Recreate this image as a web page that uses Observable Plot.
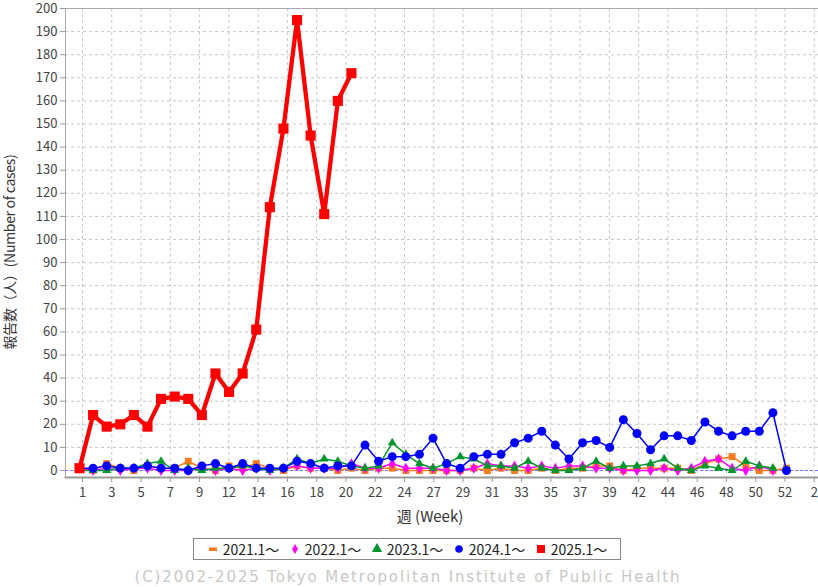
<!DOCTYPE html>
<html>
<head>
<meta charset="utf-8">
<script src="https://cdn.jsdelivr.net/npm/d3@7"></script>
<script src="https://cdn.jsdelivr.net/npm/@observablehq/plot@0.6"></script>
<style>
  html, body { margin: 0; padding: 0; background: #fff; }
  #wrap { position: relative; width: 818px; height: 587px; overflow: hidden; font-family: "Noto Sans CJK JP", "DejaVu Sans", sans-serif; }
  #chart { position: absolute; left: 0; top: 0; }
  #ylabel { position: absolute; left: 9px; top: 252px; transform: translate(-50%, -50%) rotate(-90deg); white-space: nowrap; font-size: 14px; color: #333; letter-spacing: -0.3px; }
  #xlabel { position: absolute; left: 430px; top: 515px; transform: translate(-50%, -50%); white-space: nowrap; font-size: 15px; color: #333; }
  #legend { position: absolute; left: 193px; top: 538px; width: 428px; height: 22px; border: 1px solid #888; box-sizing: border-box; display: flex; align-items: center; justify-content: space-around; padding: 0 8px; font-size: 14px; color: #222; }
  #legend .item { display: flex; align-items: center; gap: 4px; }
  #caption { position: absolute; left: 408px; top: 577px; transform: translate(-50%, -50%); white-space: nowrap; font-family: "DejaVu Sans", sans-serif; font-size: 15px; letter-spacing: 1.85px; color: #c8c8c8; }
</style>
</head>
<body>
<div id="wrap">
  <div id="chart"></div>
  <div id="ylabel">報告数（人）(Number of cases)</div>
  <div id="xlabel">週 (Week)</div>
  <div id="legend"></div>
  <div id="caption">(C)2002-2025 Tokyo Metropolitan Institute of Public Health</div>
</div>
<script>
// ---- data (weekly report counts) ----
const seriesNames = ["2021.1～", "2022.1～", "2023.1～", "2024.1～", "2025.1～"];
const cases2021 = [1,0,3,1,0,2,1,1,4,1, 0,2,1,3,1,0,2,1,1,0, 1,0,1,1,0,0,0,0,0,1, 0,1,0,0,1,0,1,1,2,2, 0,1,1,1,1,0,3,5,6,2, 0,0,1];
const cases2022 = [1,0,1,0,1,1,0,0,0,1, 0,1,0,1,0,1,2,1,1,1, 3,1,1,3,1,1,1,0,0,1, 3,2,2,1,2,1,2,2,1,1, 0,0,0,1,0,1,4,5,1,0, 2,0];
const cases2023 = [0,0,0,1,1,3,4,0,1,0, 1,1,2,1,0,1,5,3,5,4, 2,1,2,12,7,3,1,3,6,5, 2,2,1,4,1,0,0,1,4,1, 2,2,3,5,1,0,2,1,0,4, 2,1];
const cases2024 = [1,1,2,1,1,2,1,1,0,2, 3,1,3,1,1,1,4,3,1,2, 2,11,4,6,6,7,14,3,1,6, 7,7,12,14,17,11,5,12,13,10, 22,16,9,15,15,13,21,17,15,17, 17,25,0];
const cases2025 = [1,24,19,20,24,19,31,32,31,24, 42,34,42,61,114,148,195,145,111,160, 172];

// x-axis tick labels as printed on the chart
const xTickLabels = ["1","3","5","7","9","12","14","16","18","20","22","24","27","29","31","33","35","37","39","42","44","46","48","50","52","2"];
const yTicks = d3.range(0, 201, 10);

// ---- styles ----
const colors  = ["#f77a1c", "#ff00ff", "#00962c", "#0000ff", "#ff0000"];
const symbols = ["square", "diamond", "triangle", "circle", "square"];
const radii   = [3.9, 3.3, 3.3, 4.5, 5.7];
const widths  = [1.5, 1.5, 1.5, 1.5, 4.3];

const allValues = [cases2021, cases2022, cases2023, cases2024, cases2025];
const rows = allValues.map((vals, s) => vals.map((v, i) => ({series: seriesNames[s], week: i + 1, value: v})));

// tick positions (axis decoration, evenly spaced in week units)
const tickStep = 29.28 / 13.6;
const tickPos = xTickLabels.map((_, k) => 1.22 + k * tickStep);
const tickMap = new Map(tickPos.map((p, k) => [p, xTickLabels[k]]));

const marks = [
  Plot.gridY(yTicks, {stroke: "#c8c8c8", strokeOpacity: 1, strokeDasharray: "3,3"}),
  Plot.gridX(tickPos, {stroke: "#c8c8c8", strokeOpacity: 1, strokeDasharray: "3,3"}),
  Plot.frame({anchor: "left", stroke: "#aaa"}),
  Plot.frame({anchor: "top", stroke: "#aaa"}),
  Plot.frame({anchor: "bottom", stroke: "#999", strokeWidth: 2}),
  Plot.ruleY([0], {stroke: "#7b7bff", strokeDasharray: "3,2", strokeWidth: 1}),
  Plot.axisY(yTicks, {tickSize: 5, tickPadding: 3, fontSize: 13, color: "#444", stroke: "#999", label: null}),
  Plot.axisX(tickPos, {tickSize: 5, tickPadding: 5, fontSize: 13, color: "#444", stroke: "#999", label: null, tickFormat: d => tickMap.get(d)})
];
rows.forEach((data, s) => {
  marks.push(Plot.line(data, {x: "week", y: "value", stroke: colors[s], strokeWidth: widths[s], strokeLinejoin: "miter"}));
  marks.push(Plot.dot(data, {x: "week", y: "value", symbol: symbols[s], r: radii[s], fill: colors[s], stroke: "none"}));
});

const chart = Plot.plot({
  width: 818,
  height: 530,
  marginLeft: 65,
  marginRight: 0,
  marginTop: 8,
  marginBottom: 53,
  style: {fontFamily: "'Noto Sans CJK JP', 'DejaVu Sans', sans-serif", fontSize: "13px", background: "white"},
  x: {domain: [1, 53], range: [79, 786], axis: null},
  y: {domain: [0, 200], range: [470, 8], axis: null},
  marks
});
document.getElementById("chart").appendChild(chart);

// ---- legend ----
const legend = d3.select("#legend");
seriesNames.forEach((name, s) => {
  const item = legend.append("div").attr("class", "item");
  const svg = item.append("svg").attr("width", 12).attr("height", 12);
  if (s === 0) {
    svg.append("rect").attr("x", 2).attr("y", 4.5).attr("width", 8).attr("height", 3.5).attr("fill", colors[s]);
  } else {
    const sym = {diamond: d3.symbolDiamond, triangle: d3.symbolTriangle, circle: d3.symbolCircle, square: d3.symbolSquare}[symbols[s]];
    const size = s === 4 ? 64 : s === 1 ? 30 : 45;
    svg.append("path").attr("transform", "translate(6,6)").attr("d", d3.symbol(sym, size)()).attr("fill", colors[s]);
  }
  item.append("span").text(name);
});
</script>
</body>
</html>
